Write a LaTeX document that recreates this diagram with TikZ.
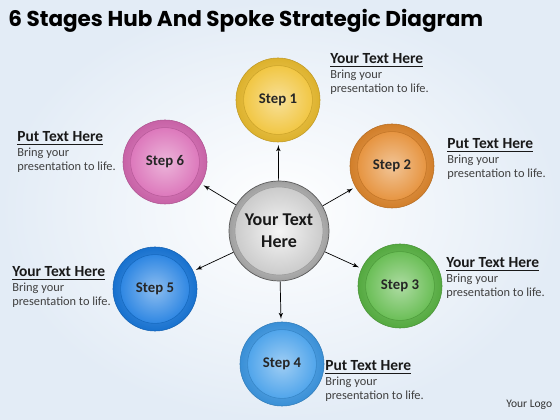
\documentclass[tikz,border=0pt]{standalone}
\usepackage{fontspec}
\setmainfont{Carlito}
\newfontfamily\titlefont{Poppins}
\usepackage{tikz}
\usetikzlibrary{arrows,positioning,backgrounds}

\definecolor{bgblue}{HTML}{E3ECF6}
\definecolor{stepone}{HTML}{F0C131}
\definecolor{steptwo}{HTML}{E48A2E}
\definecolor{stepthree}{HTML}{5CB846}
\definecolor{stepfour}{HTML}{3F9CE9}
\definecolor{stepfive}{HTML}{1A7BE0}
\definecolor{stepsix}{HTML}{D96BB5}

\newcommand{\hd}[1]{{\fontsize{11}{12}\selectfont\bfseries\color{black!90}\underline{#1}}}

\begin{document}
\begin{tikzpicture}[
    x=0.025cm, y=0.025cm,
    >=latex',
    stage/.style={
        circle,
        minimum size=2.1cm,
        inner sep=0pt,
        draw=#1!80!black,
        line width=0.4pt,
        inner color=#1!70!white,
        outer color=#1!92!black,
        path picture={
            \shadedraw[inner color=#1!50!white, outer color=#1, draw=#1!85!black, line width=0.4pt]
            (path picture bounding box.center) circle (0.86cm);
        },
        font=\bfseries\fontsize{10.5}{12}\selectfont,
        text=black!85
    },
    hubbox/.style={
        circle,
        minimum size=2.5cm,
        inner sep=0pt,
        draw=gray!70!black,
        line width=0.5pt,
        inner color=white,
        outer color=gray!75,
        path picture={
            \shadedraw[inner color=gray!8, outer color=gray!45, draw=gray!75, line width=0.5pt]
            (path picture bounding box.center) circle (1.1cm);
        },
        align=center,
        font=\bfseries\fontsize{12.8}{15.5}\selectfont,
        text=black!90
    },
    note/.style={
        anchor=base west,
        inner sep=0pt,
        font=\fontsize{8.8}{10.3}\selectfont,
        text=black!75
    },
    spoke/.style={
        ->,
        line width=0.5pt,
        shorten >=2pt
    }
  ]
  \useasboundingbox (0,0) rectangle (560,420);
  \shade[inner color=white, outer color=bgblue] (0,0) rectangle (560,420);

  % title and logo
  \node [anchor=base west, inner sep=0pt, font=\titlefont\bfseries\fontsize{15.3}{17}\selectfont] (title) at (8,393)
    {6 Stages Hub And Spoke Strategic Diagram};
  \node [anchor=base west, inner sep=0pt, font=\fontsize{8.2}{9}\selectfont, text=black!80] (logo) at (506,12) {Your Logo};

  % We start by placing the hub and the stages
  \node [hubbox] (hub) at (279,189) {Your Text\\Here};

  \node [stage=stepone] (step1) at (278,320) {Step 1};
  \node [stage=steptwo] (step2) at (392,254) {Step 2};
  \node [stage=stepthree] (step3) at (400,134) {Step 3};
  \node [stage=stepfour] (step4) at (282,56) {Step 4};
  \node [stage=stepfive] (step5) at (155,131) {Step 5};
  \node [stage=stepsix] (step6) at (165,258) {Step 6};

  % texts beside the stages
  \node [note] (text1) at (330,356)
  {\begin{tabular}[t]{@{}l@{}}\hd{Your Text Here}\\ Bring your\\ presentation to life.\end{tabular}};
  \node [note] (text2) at (447,271)
  {\begin{tabular}[t]{@{}l@{}}\hd{Put Text Here}\\ Bring your\\ presentation to life.\end{tabular}};
  \node [note] (text3) at (446,152)
  {\begin{tabular}[t]{@{}l@{}}\hd{Your Text Here}\\ Bring your\\ presentation to life.\end{tabular}};
  \node [note] (text4) at (325,49)
  {\begin{tabular}[t]{@{}l@{}}\hd{Put Text Here}\\ Bring your\\ presentation to life.\end{tabular}};
  \node [note] (text5) at (12,143)
  {\begin{tabular}[t]{@{}l@{}}\hd{Your Text Here}\\ Bring your\\ presentation to life.\end{tabular}};
  \node [note] (text6) at (17,278)
  {\begin{tabular}[t]{@{}l@{}}\hd{Put Text Here}\\ Bring your\\ presentation to life.\end{tabular}};

  % spokes
  \foreach \s in {1,...,6}
    \draw [spoke] (hub) -- (step\s);

\end{tikzpicture}
\end{document}
